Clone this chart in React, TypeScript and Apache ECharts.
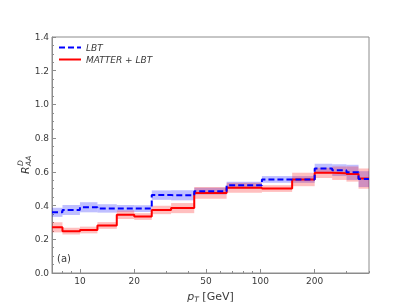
import React, { useEffect, useRef } from "react";
import * as echarts from "echarts";

// Bin edges in pT [GeV]
const binEdges = [7, 8, 10, 12.5, 16, 20, 25, 32, 43, 65, 102, 150, 200, 250, 300, 350, 400];

// LBT (blue dashed)
const lbtValues = [0.36, 0.374, 0.39, 0.383, 0.383, 0.382, 0.462, 0.461, 0.485, 0.521, 0.555, 0.555, 0.62, 0.61, 0.597, 0.557];
const lbtErr = [0.027, 0.03, 0.03, 0.025, 0.02, 0.02, 0.028, 0.03, 0.02, 0.02, 0.02, 0.02, 0.028, 0.035, 0.045, 0.047];

// MATTER + LBT (red solid)
const mlbtValues = [0.271, 0.248, 0.255, 0.282, 0.346, 0.335, 0.374, 0.385, 0.475, 0.506, 0.501, 0.555, 0.594, 0.592, 0.587, 0.56];
const mlbtErr = [0.03, 0.02, 0.02, 0.02, 0.025, 0.02, 0.025, 0.03, 0.035, 0.03, 0.02, 0.04, 0.03, 0.04, 0.045, 0.06];

const majorTicks = [10, 20, 50, 100, 200];
const minorTicks = [7, 8, 9, 30, 40, 60, 70, 80, 90, 300, 400];
const yTicks = [0, 0.2, 0.4, 0.6, 0.8, 1.0, 1.2, 1.4];

const FONT = "DejaVu Sans";
const AXIS_GRAY = "#8c8c8c";
const TEXT = "#3a3a3a";

const lg = (v: number) => Math.log10(v);

function stepData(values: number[]) {
  const pts = values.map((v, i) => [lg(binEdges[i]), v]);
  pts.push([lg(binEdges[binEdges.length - 1]), values[values.length - 1]]);
  return pts;
}

function bandData(values: number[], errs: number[]) {
  return values.map((v, i) => [lg(binEdges[i]), lg(binEdges[i + 1]), v - errs[i], v + errs[i]]);
}

function bandSeries(values: number[], errs: number[], fill: string) {
  return {
    type: "custom",
    silent: true,
    data: bandData(values, errs),
    encode: { x: [0, 1], y: [2, 3] },
    renderItem: (params: any, api: any) => {
      const a = api.coord([api.value(0), api.value(3)]);
      const b = api.coord([api.value(1), api.value(2)]);
      return {
        type: "rect",
        shape: { x: a[0], y: a[1], width: b[0] - a[0], height: b[1] - a[1] },
        style: { fill },
      };
    },
    z: 1,
  };
}

export default function App() {
  const ref = useRef<HTMLDivElement>(null);
  useEffect(() => {
    if (!ref.current) return;
    const chart = echarts.init(ref.current, undefined, { renderer: "svg" });
    const xMin = lg(binEdges[0]);
    const xMax = lg(binEdges[binEdges.length - 1]);
    chart.setOption({
      animation: false,
      grid: {
        left: 52,
        right: 42,
        top: 37,
        bottom: 34,
        show: true,
        borderColor: AXIS_GRAY,
        borderWidth: 1,
        backgroundColor: "transparent",
      },
      legend: {
        left: 53,
        top: 38,
        orient: "vertical",
        itemWidth: 22,
        itemHeight: 10,
        itemGap: 3,
        itemStyle: { opacity: 0 },
        textStyle: { fontSize: 9, fontStyle: "italic", color: TEXT, fontFamily: FONT },
        data: ["LBT", "MATTER + LBT"],
      },
      xAxis: [
        {
          type: "value",
          min: xMin,
          max: xMax,
          axisLine: { lineStyle: { color: AXIS_GRAY } },
          splitLine: { show: false },
          axisTick: {
            inside: true,
            length: 4,
            lineStyle: { color: AXIS_GRAY },
            customValues: majorTicks.map(lg),
          },
          axisLabel: {
            customValues: majorTicks.map(lg),
            formatter: (v: number) => String(Math.round(Math.pow(10, v))),
            fontSize: 9,
            color: TEXT,
            fontFamily: FONT,
            margin: 3,
          },
          name: "{p|p}{t|T}{g| [GeV]}",
          nameLocation: "middle",
          nameGap: 16,
          nameTextStyle: {
            rich: {
              p: { fontSize: 11, fontStyle: "italic", fontFamily: FONT, color: TEXT, lineHeight: 14, verticalAlign: "middle" },
              t: { fontSize: 7.5, fontStyle: "italic", fontFamily: FONT, color: TEXT, lineHeight: 7, verticalAlign: "bottom" },
              g: { fontSize: 11, fontFamily: FONT, color: TEXT, lineHeight: 14, verticalAlign: "middle" },
            },
          },
        },
        {
          type: "value",
          min: xMin,
          max: xMax,
          position: "bottom",
          axisLine: { show: false },
          splitLine: { show: false },
          axisTick: {
            inside: true,
            length: 2,
            lineStyle: { color: AXIS_GRAY },
            customValues: minorTicks.map(lg),
          },
          axisLabel: { show: false },
        },
      ],
      yAxis: {
        type: "value",
        min: 0,
        max: 1.4,
        interval: 0.2,
        axisLine: { show: true, lineStyle: { color: AXIS_GRAY } },
        splitLine: { show: false },
        axisTick: { show: true, inside: true, length: 4, lineStyle: { color: AXIS_GRAY } },
        minorTick: { show: true, splitNumber: 4, length: 2, lineStyle: { color: AXIS_GRAY } },
        axisLabel: {
          formatter: (v: number) => v.toFixed(1),
          fontSize: 9,
          color: TEXT,
          fontFamily: FONT,
          margin: 3,
          customValues: yTicks,
        },
      },
      graphic: [
        {
          type: "text",
          left: 57,
          top: 253,
          style: { text: "(a)", fontSize: 10, fontFamily: FONT, fill: TEXT },
        },
        {
          type: "group",
          x: 25,
          y: 174,
          rotation: Math.PI / 2,
          children: [
            {
              type: "text",
              x: 0,
              y: 0,
              style: { text: "R", fontSize: 11, fontStyle: "italic", fontFamily: FONT, fill: TEXT, verticalAlign: "middle", align: "left" },
            },
            {
              type: "text",
              x: 8,
              y: -4.5,
              style: { text: "D", fontSize: 7.5, fontStyle: "italic", fontFamily: FONT, fill: TEXT, verticalAlign: "middle", align: "left" },
            },
            {
              type: "text",
              x: 8,
              y: 3.5,
              style: { text: "AA", fontSize: 7.5, fontStyle: "italic", fontFamily: FONT, fill: TEXT, verticalAlign: "middle", align: "left" },
            },
          ],
        },
      ],
      series: [
        bandSeries(lbtValues, lbtErr, "rgba(0,0,255,0.25)"),
        bandSeries(mlbtValues, mlbtErr, "rgba(255,0,0,0.25)"),
        {
          name: "MATTER + LBT",
          type: "line",
          step: "end",
          data: stepData(mlbtValues),
          showSymbol: false,
          symbol: "none",
          color: "#ff0000",
          lineStyle: { color: "#ff0000", width: 2 },
          z: 3,
        },
        {
          name: "LBT",
          type: "line",
          step: "end",
          data: stepData(lbtValues),
          showSymbol: false,
          symbol: "none",
          color: "#0000ff",
          lineStyle: { color: "#0000ff", width: 2, type: [6, 3] },
          z: 4,
        },
      ],
    });
    return () => chart.dispose();
  }, []);
  return <div ref={ref} style={{ position: "fixed", left: 0, top: 0, width: 411, height: 308 }} />;
}
